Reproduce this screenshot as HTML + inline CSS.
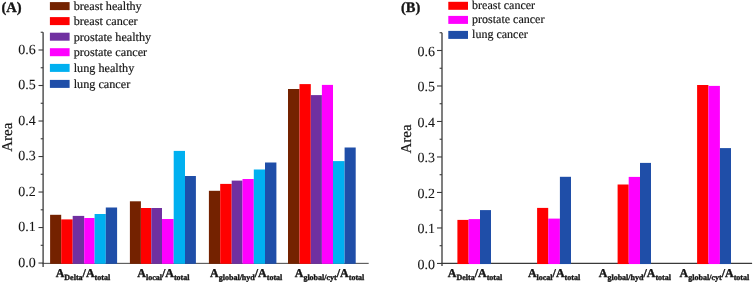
<!DOCTYPE html>
<html><head><meta charset="utf-8"><style>
html,body{margin:0;padding:0;background:#fff;}
svg{display:block;font-family:"Liberation Serif", serif;will-change:transform;text-rendering:geometricPrecision;}
text{fill:#151515;stroke:#151515;stroke-width:0.18px;}
text.b{stroke:#151515;stroke-width:0.35px;}
text.t{stroke-width:0.08px;}
</style></head><body>
<svg width="753" height="283" viewBox="0 0 753 283">
<line x1="43.10" y1="32.25" x2="43.10" y2="267.00" stroke="#3a3a3a" stroke-width="1.3"/>
<line x1="42.45" y1="263.35" x2="368.70" y2="263.35" stroke="#3a3a3a" stroke-width="0.95"/>
<rect x="50.10" y="214.80" width="11.10" height="49.03" fill="#742200"/>
<rect x="61.20" y="219.40" width="11.50" height="44.43" fill="#FF0000"/>
<rect x="72.70" y="215.90" width="11.50" height="47.93" fill="#7030A0"/>
<rect x="84.20" y="218.00" width="10.40" height="45.83" fill="#FF00FF"/>
<rect x="94.60" y="214.00" width="11.20" height="49.83" fill="#00B0F0"/>
<rect x="105.80" y="207.50" width="11.30" height="56.33" fill="#1F4EA8"/>
<rect x="129.90" y="201.30" width="11.00" height="62.53" fill="#742200"/>
<rect x="140.90" y="208.00" width="10.40" height="55.83" fill="#FF0000"/>
<rect x="151.30" y="208.00" width="10.70" height="55.83" fill="#7030A0"/>
<rect x="162.00" y="219.00" width="11.70" height="44.83" fill="#FF00FF"/>
<rect x="173.70" y="150.90" width="11.30" height="112.93" fill="#00B0F0"/>
<rect x="185.00" y="176.00" width="10.90" height="87.83" fill="#1F4EA8"/>
<rect x="208.90" y="190.80" width="11.30" height="73.03" fill="#742200"/>
<rect x="220.20" y="183.90" width="11.50" height="79.93" fill="#FF0000"/>
<rect x="231.70" y="180.60" width="10.80" height="83.23" fill="#7030A0"/>
<rect x="242.50" y="179.00" width="11.30" height="84.83" fill="#FF00FF"/>
<rect x="253.80" y="169.50" width="11.20" height="94.33" fill="#00B0F0"/>
<rect x="265.00" y="162.50" width="11.40" height="101.33" fill="#1F4EA8"/>
<rect x="288.00" y="89.00" width="11.50" height="174.83" fill="#742200"/>
<rect x="299.50" y="84.10" width="11.30" height="179.73" fill="#FF0000"/>
<rect x="310.80" y="95.10" width="11.10" height="168.73" fill="#7030A0"/>
<rect x="321.90" y="84.90" width="11.10" height="178.93" fill="#FF00FF"/>
<rect x="333.00" y="161.10" width="11.60" height="102.73" fill="#00B0F0"/>
<rect x="344.60" y="147.50" width="11.10" height="116.33" fill="#1F4EA8"/>
<line x1="38.50" y1="263.05" x2="43.10" y2="263.05" stroke="#3a3a3a" stroke-width="1.1"/>
<text x="35.80" y="266.85" font-size="14" text-anchor="end" font-weight="normal" class="t">0.0</text>
<line x1="38.50" y1="227.54" x2="43.10" y2="227.54" stroke="#3a3a3a" stroke-width="1.1"/>
<text x="35.80" y="231.34" font-size="14" text-anchor="end" font-weight="normal" class="t">0.1</text>
<line x1="38.50" y1="192.03" x2="43.10" y2="192.03" stroke="#3a3a3a" stroke-width="1.1"/>
<text x="35.80" y="195.83" font-size="14" text-anchor="end" font-weight="normal" class="t">0.2</text>
<line x1="38.50" y1="156.53" x2="43.10" y2="156.53" stroke="#3a3a3a" stroke-width="1.1"/>
<text x="35.80" y="160.33" font-size="14" text-anchor="end" font-weight="normal" class="t">0.3</text>
<line x1="38.50" y1="121.02" x2="43.10" y2="121.02" stroke="#3a3a3a" stroke-width="1.1"/>
<text x="35.80" y="124.82" font-size="14" text-anchor="end" font-weight="normal" class="t">0.4</text>
<line x1="38.50" y1="85.51" x2="43.10" y2="85.51" stroke="#3a3a3a" stroke-width="1.1"/>
<text x="35.80" y="89.31" font-size="14" text-anchor="end" font-weight="normal" class="t">0.5</text>
<line x1="38.50" y1="50.00" x2="43.10" y2="50.00" stroke="#3a3a3a" stroke-width="1.1"/>
<text x="35.80" y="53.80" font-size="14" text-anchor="end" font-weight="normal" class="t">0.6</text>
<line x1="40.70" y1="245.30" x2="43.10" y2="245.30" stroke="#3a3a3a" stroke-width="1.1"/>
<line x1="40.70" y1="209.79" x2="43.10" y2="209.79" stroke="#3a3a3a" stroke-width="1.1"/>
<line x1="40.70" y1="174.28" x2="43.10" y2="174.28" stroke="#3a3a3a" stroke-width="1.1"/>
<line x1="40.70" y1="138.77" x2="43.10" y2="138.77" stroke="#3a3a3a" stroke-width="1.1"/>
<line x1="40.70" y1="103.26" x2="43.10" y2="103.26" stroke="#3a3a3a" stroke-width="1.1"/>
<line x1="40.70" y1="67.75" x2="43.10" y2="67.75" stroke="#3a3a3a" stroke-width="1.1"/>
<line x1="40.70" y1="32.25" x2="43.10" y2="32.25" stroke="#3a3a3a" stroke-width="1.1"/>
<text x="0.00" y="0.00" font-size="15" text-anchor="middle" font-weight="normal" transform="translate(11.60,137.20) rotate(-90)">Area</text>
<rect x="49.90" y="2.10" width="19.70" height="8.00" fill="#742200"/>
<text x="73.70" y="10.00" font-size="12.2" text-anchor="start" font-weight="normal" >breast healthy</text>
<rect x="49.90" y="17.10" width="19.70" height="8.00" fill="#FF0000"/>
<text x="73.70" y="25.00" font-size="12.2" text-anchor="start" font-weight="normal" >breast cancer</text>
<rect x="49.90" y="32.70" width="19.70" height="8.00" fill="#7030A0"/>
<text x="73.70" y="40.60" font-size="12.2" text-anchor="start" font-weight="normal" >prostate healthy</text>
<rect x="49.90" y="48.20" width="19.70" height="8.00" fill="#FF00FF"/>
<text x="73.70" y="56.10" font-size="12.2" text-anchor="start" font-weight="normal" >prostate cancer</text>
<rect x="49.90" y="63.90" width="19.70" height="8.00" fill="#00B0F0"/>
<text x="73.70" y="71.80" font-size="12.2" text-anchor="start" font-weight="normal" >lung healthy</text>
<rect x="49.90" y="79.90" width="19.70" height="8.00" fill="#1F4EA8"/>
<text x="73.70" y="87.80" font-size="12.2" text-anchor="start" font-weight="normal" >lung cancer</text>
<text x="1.40" y="11.70" font-size="14.5" text-anchor="start" font-weight="bold" class="b">(A)</text>
<text class="b" x="82.90" y="276.7" font-size="12" font-weight="bold" text-anchor="middle">A<tspan font-size="8" dy="2.9">Delta</tspan><tspan dy="-2.9">/A</tspan><tspan font-size="8" dy="2.9">total</tspan></text>
<text class="b" x="163.40" y="276.7" font-size="12" font-weight="bold" text-anchor="middle">A<tspan font-size="8" dy="2.9">local</tspan><tspan dy="-2.9">/A</tspan><tspan font-size="8" dy="2.9">total</tspan></text>
<text class="b" x="246.20" y="276.7" font-size="12" font-weight="bold" text-anchor="middle">A<tspan font-size="8" dy="2.9">global/hyd</tspan><tspan dy="-2.9">/A</tspan><tspan font-size="8" dy="2.9">total</tspan></text>
<text class="b" x="329.50" y="276.7" font-size="12" font-weight="bold" text-anchor="middle">A<tspan font-size="8" dy="2.9">global/cyt</tspan><tspan dy="-2.9">/A</tspan><tspan font-size="8" dy="2.9">total</tspan></text>
<line x1="442.00" y1="32.75" x2="442.00" y2="266.00" stroke="#3a3a3a" stroke-width="1.3"/>
<line x1="441.35" y1="263.45" x2="752.10" y2="263.45" stroke="#3a3a3a" stroke-width="1.2"/>
<rect x="457.40" y="219.90" width="11.20" height="44.15" fill="#FF0000"/>
<rect x="468.60" y="219.10" width="11.40" height="44.95" fill="#FF00FF"/>
<rect x="480.00" y="210.10" width="11.00" height="53.95" fill="#1F4EA8"/>
<rect x="537.10" y="207.90" width="11.10" height="56.15" fill="#FF0000"/>
<rect x="548.20" y="218.60" width="11.70" height="45.45" fill="#FF00FF"/>
<rect x="559.90" y="176.80" width="11.10" height="87.25" fill="#1F4EA8"/>
<rect x="617.60" y="184.50" width="11.10" height="79.55" fill="#FF0000"/>
<rect x="628.70" y="176.90" width="11.30" height="87.15" fill="#FF00FF"/>
<rect x="640.00" y="162.90" width="11.00" height="101.15" fill="#1F4EA8"/>
<rect x="697.10" y="85.00" width="11.30" height="179.05" fill="#FF0000"/>
<rect x="708.40" y="85.90" width="11.50" height="178.15" fill="#FF00FF"/>
<rect x="719.90" y="148.10" width="11.10" height="115.95" fill="#1F4EA8"/>
<line x1="437.00" y1="263.45" x2="442.00" y2="263.45" stroke="#3a3a3a" stroke-width="1.1"/>
<text x="435.10" y="268.65" font-size="14" text-anchor="end" font-weight="normal" class="t">0.0</text>
<line x1="437.00" y1="227.96" x2="442.00" y2="227.96" stroke="#3a3a3a" stroke-width="1.1"/>
<text x="435.10" y="233.16" font-size="14" text-anchor="end" font-weight="normal" class="t">0.1</text>
<line x1="437.00" y1="192.47" x2="442.00" y2="192.47" stroke="#3a3a3a" stroke-width="1.1"/>
<text x="435.10" y="197.67" font-size="14" text-anchor="end" font-weight="normal" class="t">0.2</text>
<line x1="437.00" y1="156.97" x2="442.00" y2="156.97" stroke="#3a3a3a" stroke-width="1.1"/>
<text x="435.10" y="162.17" font-size="14" text-anchor="end" font-weight="normal" class="t">0.3</text>
<line x1="437.00" y1="121.48" x2="442.00" y2="121.48" stroke="#3a3a3a" stroke-width="1.1"/>
<text x="435.10" y="126.68" font-size="14" text-anchor="end" font-weight="normal" class="t">0.4</text>
<line x1="437.00" y1="85.99" x2="442.00" y2="85.99" stroke="#3a3a3a" stroke-width="1.1"/>
<text x="435.10" y="91.19" font-size="14" text-anchor="end" font-weight="normal" class="t">0.5</text>
<line x1="437.00" y1="50.50" x2="442.00" y2="50.50" stroke="#3a3a3a" stroke-width="1.1"/>
<text x="435.10" y="55.70" font-size="14" text-anchor="end" font-weight="normal" class="t">0.6</text>
<line x1="439.60" y1="245.70" x2="442.00" y2="245.70" stroke="#3a3a3a" stroke-width="1.1"/>
<line x1="439.60" y1="210.21" x2="442.00" y2="210.21" stroke="#3a3a3a" stroke-width="1.1"/>
<line x1="439.60" y1="174.72" x2="442.00" y2="174.72" stroke="#3a3a3a" stroke-width="1.1"/>
<line x1="439.60" y1="139.23" x2="442.00" y2="139.23" stroke="#3a3a3a" stroke-width="1.1"/>
<line x1="439.60" y1="103.74" x2="442.00" y2="103.74" stroke="#3a3a3a" stroke-width="1.1"/>
<line x1="439.60" y1="68.25" x2="442.00" y2="68.25" stroke="#3a3a3a" stroke-width="1.1"/>
<line x1="439.60" y1="32.75" x2="442.00" y2="32.75" stroke="#3a3a3a" stroke-width="1.1"/>
<text x="0.00" y="0.00" font-size="15" text-anchor="middle" font-weight="normal" transform="translate(411.40,139.00) rotate(-90)">Area</text>
<rect x="448.30" y="1.80" width="19.70" height="8.00" fill="#FF0000"/>
<text x="472.10" y="9.20" font-size="12.0" text-anchor="start" font-weight="normal" >breast cancer</text>
<rect x="448.30" y="15.90" width="19.70" height="8.00" fill="#FF00FF"/>
<text x="472.10" y="23.30" font-size="12.0" text-anchor="start" font-weight="normal" >prostate cancer</text>
<rect x="448.30" y="30.90" width="19.70" height="8.00" fill="#1F4EA8"/>
<text x="472.10" y="38.30" font-size="12.0" text-anchor="start" font-weight="normal" >lung cancer</text>
<text x="401.00" y="11.70" font-size="14.5" text-anchor="start" font-weight="bold" class="b">(B)</text>
<text class="b" x="475.00" y="276.7" font-size="12" font-weight="bold" text-anchor="middle">A<tspan font-size="8" dy="2.9">Delta</tspan><tspan dy="-2.9">/A</tspan><tspan font-size="8" dy="2.9">total</tspan></text>
<text class="b" x="554.00" y="276.7" font-size="12" font-weight="bold" text-anchor="middle">A<tspan font-size="8" dy="2.9">local</tspan><tspan dy="-2.9">/A</tspan><tspan font-size="8" dy="2.9">total</tspan></text>
<text class="b" x="634.90" y="276.7" font-size="12" font-weight="bold" text-anchor="middle">A<tspan font-size="8" dy="2.9">global/hyd</tspan><tspan dy="-2.9">/A</tspan><tspan font-size="8" dy="2.9">total</tspan></text>
<text class="b" x="714.40" y="276.7" font-size="12" font-weight="bold" text-anchor="middle">A<tspan font-size="8" dy="2.9">global/cyt</tspan><tspan dy="-2.9">/A</tspan><tspan font-size="8" dy="2.9">total</tspan></text>
</svg>
</body></html>
